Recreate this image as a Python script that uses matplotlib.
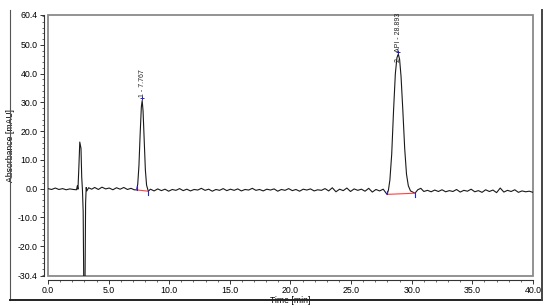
import numpy as np
import matplotlib
matplotlib.use("Agg")
import matplotlib.pyplot as plt
from matplotlib.ticker import FixedLocator, MultipleLocator, FormatStrFormatter
from matplotlib.lines import Line2D
from matplotlib.patches import Rectangle

plt.rcParams['font.family'] = ['Liberation Sans', 'DejaVu Sans']

# chromatogram trace (time in min, absorbance in mAU)
trace_t = [0.0, 0.3, 0.6, 0.9, 1.2, 1.5, 1.8, 2.1, 2.35, 2.42, 2.47, 2.55, 2.62, 2.67, 2.72,
           2.78, 2.84, 2.9, 2.95, 3.05, 3.1, 3.15, 3.2,
           3.35, 3.6, 3.85, 4.15, 4.45, 4.75, 5.05, 5.35, 5.65, 5.95, 6.25, 6.55, 6.85, 7.1, 7.31,
           7.4, 7.5, 7.6, 7.7, 7.767, 7.84, 7.93, 8.03, 8.13, 8.27,
           8.45, 8.75, 9.05, 9.35, 9.65, 9.95, 10.25, 10.55, 10.85, 11.15, 11.45, 11.75, 12.05,
           12.35, 12.65, 12.95, 13.25, 13.55, 13.85, 14.15, 14.45, 14.75, 15.05, 15.35, 15.65,
           15.95, 16.25, 16.55, 16.85, 17.15, 17.45, 17.75, 18.05, 18.35, 18.65, 18.95, 19.25,
           19.55, 19.85, 20.15, 20.45, 20.75, 21.05, 21.35, 21.65, 21.95, 22.25, 22.55, 22.85,
           23.15, 23.45, 23.75, 24.05, 24.35, 24.65, 24.95, 25.25, 25.55, 25.85, 26.15, 26.45,
           26.75, 27.05, 27.35, 27.65, 27.96,
           28.08, 28.2, 28.35, 28.5, 28.65, 28.78, 28.893, 29.0, 29.12, 29.27, 29.42, 29.57, 29.72,
           29.9, 30.27,
           30.5, 30.75, 31.0, 31.3, 31.6, 31.9, 32.2, 32.5, 32.8, 33.1, 33.4, 33.7, 34.0, 34.3,
           34.6, 34.9, 35.2, 35.5, 35.8, 36.1, 36.4, 36.7, 37.0, 37.3, 37.6, 37.9, 38.2, 38.5,
           38.8, 39.1, 39.4, 39.7, 40.0]
trace_y = [0.0, -0.3, 0.2, -0.3, 0.0, -0.4, -0.1, -0.3, -0.4, 1.0, -0.2, 8.0, 16.2, 15.0, 14.0,
           4.0, -0.5, -8.0, -34.0, -34.0, -5.0, 0.4, -0.8,
           0.3, -0.2, 0.4, -0.3, 0.5, -0.1, 0.2, -0.4, 0.3, -0.2, 0.4, -0.3, 0.1, -0.4, -0.45,
           1.5, 8.0, 19.0, 28.5, 30.6, 27.0, 17.0, 6.5, 1.2, -0.9,
           -0.2, -0.8, -0.1, -0.7, -0.2, -0.9, -0.3, -0.6, 0.0, -0.7, -0.2, -0.8, -0.3,
           -0.5, 0.1, -0.6, -0.2, -0.9, -0.3, -0.6, 0.0, -0.7, -0.2, -0.6, -0.1,
           -0.8, -0.3, -0.5, 0.1, -0.6, -0.3, -0.8, -0.2, -0.5, -0.1, -0.9, -0.3,
           -0.6, 0.0, -0.7, -0.3, -0.9, -0.2, -0.5, -0.1, -0.8, -0.4, -0.6, 0.0,
           -0.8, 0.3, -1.1, -0.2, -0.7, 0.2, -1.0, -0.1, -0.6, -0.2, -0.9, 0.1,
           -1.2, -0.3, -0.8, -0.2, -2.0,
           -0.5, 3.0, 12.0, 27.0, 40.0, 45.5, 46.8, 45.0, 39.0, 27.0, 14.0, 5.0, 1.0,
           -0.8, -1.6,
           -0.4, 0.1, -1.0, -0.6, -1.1, -0.5, -1.0, -0.4, -1.1, -0.7, -1.0, -0.3, -1.2, -0.6,
           -0.9, -0.2, -1.1, -0.7, -1.3, -0.4, -1.0, -0.5, -1.4, 0.2, -1.2, -0.6, -1.0, -0.4,
           -1.3, -0.8, -1.1, -0.9, -1.3]

# integrated peaks
peak_rt = [7.767, 28.893]
peak_top = [30.6, 46.8]
peak_labels = ["1 - 7.767", "2 - API - 28.893"]
label_base = [31.8, 44.0]
int_start_t = [7.31, 27.96]
int_start_y = [-0.45, -2.0]
int_end_t = [8.27, 30.27]
int_end_y = [-0.9, -1.6]

y_ticks = [-30.4, -20.0, -10.0, 0.0, 10.0, 20.0, 30.0, 40.0, 50.0, 60.4]

fig = plt.figure(figsize=(5.5, 3.08), dpi=100)
ax = fig.add_axes([0.0873, 0.1039, 0.8817, 0.8474])

ax.plot(trace_t, trace_y, color='#1a1a1a', lw=0.8)

for i in range(len(peak_rt)):
    ax.plot([int_start_t[i], int_end_t[i]], [int_start_y[i], int_end_y[i]],
            color='#ff4040', lw=0.8)
    ax.plot([int_start_t[i], int_start_t[i]], [int_start_y[i], int_start_y[i] + 1.3],
            color='#2020e0', lw=0.8)
    ax.plot([int_end_t[i], int_end_t[i]], [int_end_y[i], int_end_y[i] - 1.3],
            color='#2020e0', lw=0.8)
    ax.plot(peak_rt[i], peak_top[i] + 0.8, marker='+', color='#2020e0', ms=3, mew=0.7)
    ax.text(peak_rt[i], label_base[i], peak_labels[i], rotation=90, ha='center',
            va='bottom', fontsize=5.0, color='#222222')

ax.set_xlim(0, 40)
ax.set_ylim(-30.4, 60.4)
ax.xaxis.set_major_locator(MultipleLocator(5))
ax.xaxis.set_minor_locator(MultipleLocator(1))
ax.xaxis.set_major_formatter(FormatStrFormatter('%.1f'))
ax.yaxis.set_major_locator(FixedLocator(y_ticks))
ax.yaxis.set_minor_locator(MultipleLocator(2))
ax.yaxis.set_major_formatter(FormatStrFormatter('%.1f'))

ax.tick_params(which='major', length=3, width=0.7, labelsize=6.3, pad=1.5, color='#333333')
ax.tick_params(which='minor', length=1.5, width=0.6, color='#555555')
ax.set_xlabel('Time [min]', fontsize=6.2, labelpad=0.5)
ax.set_ylabel('Absorbance [mAU]', fontsize=6.2)
ax.yaxis.set_label_coords(-0.068, 0.5)

for s in ['top', 'right']:
    ax.spines[s].set_visible(False)
for s in ['left', 'bottom']:
    ax.spines[s].set_position(('outward', 3))
    ax.spines[s].set_color('#333333')
    ax.spines[s].set_linewidth(0.8)

# plot frame
ax.add_patch(Rectangle((0, 0), 1, 1, transform=ax.transAxes, fill=False,
                       edgecolor='#8a8a8a', lw=1.3, clip_on=False))

# outer border
W, H = 550.0, 308.0
fig.add_artist(Line2D([10 / W, 10 / W], [1 - 10 / H, 1 - 300 / H], color='#555555', lw=0.8))
fig.add_artist(Line2D([10 / W, 542 / W], [1 - 300 / H, 1 - 300 / H], color='#222222', lw=1.4))
fig.add_artist(Line2D([542 / W, 542 / W], [1 - 10 / H, 1 - 300 / H], color='#444444', lw=1.4))

fig.savefig('out.png', dpi=100)
